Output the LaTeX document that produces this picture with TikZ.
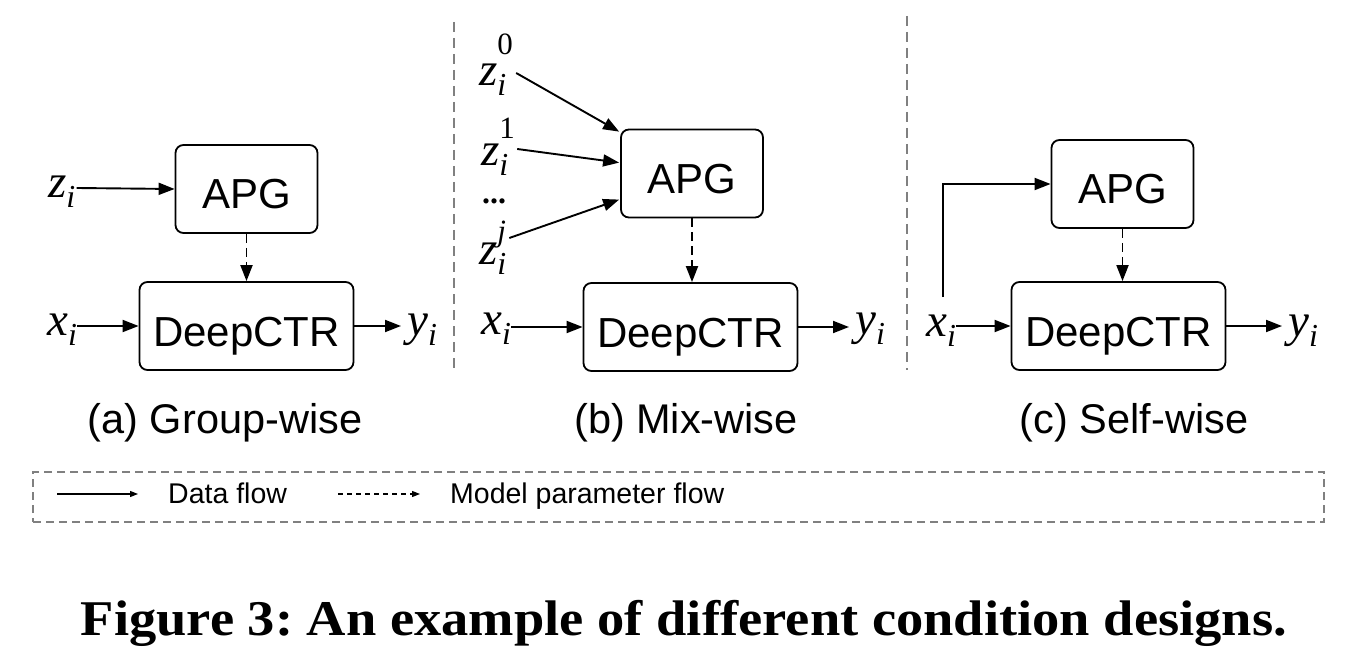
\documentclass[tikz,border=0pt]{standalone}
\usepackage{fontspec}
\setmainfont{Liberation Sans}
\newfontfamily\tms{Liberation Serif}
\newfontfamily\capfont[FakeStretch=1.09]{Liberation Serif}
\usetikzlibrary{arrows.meta,calc}
\newcommand\mvar[2]{{\fontsize{47}{47}\selectfont\tms\itshape #1\raisebox{-10pt}{\fontsize{32}{32}\selectfont #2}}}
\newcommand\zsup[2]{{\fontsize{47}{47}\selectfont\tms\itshape z\rlap{\raisebox{-10pt}{\fontsize{32}{32}\selectfont i}}\raisebox{#2pt}{\fontsize{31}{31}\selectfont #1}}}
\definecolor{divgray}{HTML}{808080}
\begin{document}
\begin{tikzpicture}[x=1pt,y=-1pt,
  box/.style={draw,line width=1.8pt,rounded corners=8pt,inner sep=0pt,text height=40pt,text depth=0pt,font=\fontsize{42}{42}\selectfont},
  apgbox/.style={box,minimum width=142pt,minimum height=88pt},
  ctrbox/.style={box,minimum width=214pt,minimum height=88pt},
  mlabel/.style={inner sep=0pt,anchor=base west},
  arr/.style={line width=1.9pt,-{Triangle[length=16pt,width=12pt]}},
  parr/.style={line width=1.9pt,dash pattern=on 9pt off 5pt,-{Triangle[length=16pt,width=12pt]}},
  divider/.style={divgray,line width=1.8pt,dash pattern=on 10pt off 6pt},
  sublabel/.style={inner sep=0pt,anchor=base,font=\fontsize{41.5}{41.5}\selectfont},
  legtext/.style={inner sep=0pt,anchor=base west,font=\fontsize{28.5}{28.5}\selectfont},
  legarr/.style={line width=1.2pt,-{Triangle[length=8pt,width=6pt]}},
  legparr/.style={line width=1.2pt,dash pattern=on 5pt off 4pt,-{Triangle[length=8pt,width=6pt]}}
]
\useasboundingbox (0,0) rectangle (1348,668);

% ---------- (a) Group-wise ----------
\node[apgbox] (apga) at (246.5,189) {APG};
\node[ctrbox] (dca) at (246.5,326) {DeepCTR};
\node[mlabel] (za) at (48,198) {\mvar{z}{i}};
\node[mlabel] (xa) at (47,335) {\mvar{x}{i}};
\node[mlabel] (ya) at (407,335) {\mvar{y}{i}};
\draw[arr] ([xshift=1pt,yshift=10pt]za.base east) -- (apga.west);
\draw[arr] (xa.base east |- dca.west) -- (dca.west);
\draw[arr,shorten >=6pt] (dca.east) -- (dca.east -| ya.west);
\draw[parr] (apga.south) -- (dca.north);
\node[sublabel] (la) at (225,433) {(a) Group-wise};

% ---------- divider ----------
\coordinate (d1t) at (454,22);
\coordinate (d1b) at (454,372);
\draw[divider] (d1t) -- (d1b);

% ---------- (b) Mix-wise ----------
\node[apgbox] (apgb) at (692,173.5) {APG};
\node[ctrbox] (dcb) at (690.5,327) {DeepCTR};
\node[mlabel] (z0) at (479,86) {\zsup{\upshape 0}{31}};
\node[mlabel] (z1) at (481,166) {\zsup{\upshape 1}{27}};
\node[mlabel,font=\fontsize{32}{32}\selectfont\tms\bfseries] (zd) at (482,204) {...};
\node[mlabel] (zj) at (479,264) {\zsup{j}{22}};
\node[mlabel] (xb) at (481,334) {\mvar{x}{i}};
\node[mlabel] (yb) at (855,334) {\mvar{y}{i}};
\draw[arr] ([xshift=3pt,yshift=13pt]z0.base east) -- ([xshift=-1pt,yshift=-3pt]apgb.north west);
\draw[arr] ([xshift=2pt,yshift=17pt]z1.base east) -- ([xshift=-1pt,yshift=-34pt]apgb.north west);
\draw[arr] ([xshift=3pt,yshift=26pt]zj.base east) -- ([xshift=-1pt,yshift=-71pt]apgb.north west);
\draw[arr] (xb.base east |- dcb.west) -- (dcb.west);
\draw[arr,shorten >=6pt] (dcb.east) -- (dcb.east -| yb.west);
\draw[parr] (apgb.south) -- (apgb.south |- dcb.north);
\node[sublabel] (lb) at (686,433) {(b) Mix-wise};

% ---------- divider ----------
\coordinate (d2t) at (907,16);
\coordinate (d2b) at (907,370);
\draw[divider] (d2t) -- (d2b);

% ---------- (c) Self-wise ----------
\node[apgbox] (apgc) at (1122.5,184) {APG};
\node[ctrbox] (dcc) at (1118.5,326) {DeepCTR};
\node[mlabel] (xc) at (926,336) {\mvar{x}{i}};
\node[mlabel] (yc) at (1288,336) {\mvar{y}{i}};
\draw[arr] ([xshift=17pt,yshift=17pt]xc.north west) |- (apgc.west);
\draw[arr] (xc.base east |- dcc.west) -- (dcc.west);
\draw[arr,shorten >=6pt] (dcc.east) -- (dcc.east -| yc.west);
\draw[parr] (apgc.south) -- (apgc.south |- dcc.north);
\node[sublabel] (lc) at (1134,433) {(c) Self-wise};

% ---------- legend ----------
\node[draw=divgray,line width=1.5pt,dash pattern=on 8pt off 5pt,minimum width=1291pt,minimum height=50pt,inner sep=0pt] (leg) at (678.5,497) {};
\coordinate (s1) at (57,494);
\coordinate (s2) at (138,494);
\draw[legarr] (s1) -- (s2);
\node[legtext] (t1) at (168,503) {Data flow};
\coordinate (p1) at (338,494);
\coordinate (p2) at (420,494);
\draw[legparr] (p1) -- (p2);
\node[legtext] (t2) at (450,503) {Model parameter flow};

% ---------- caption ----------
\node[inner sep=0pt,anchor=base,font=\fontsize{50}{50}\selectfont\capfont\bfseries\frenchspacing] (cap) at (684,635) {Figure 3: An example of different condition designs.};
\end{tikzpicture}
\end{document}
